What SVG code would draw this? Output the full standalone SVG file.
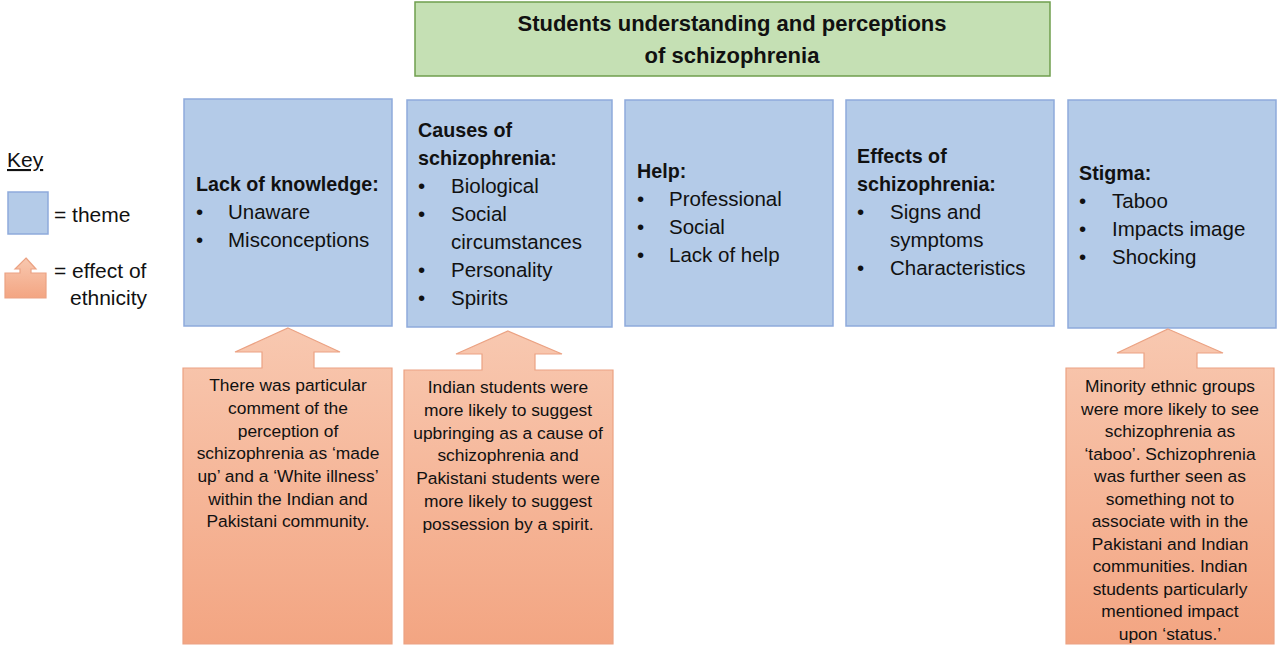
<svg xmlns="http://www.w3.org/2000/svg" width="1280" height="648" viewBox="0 0 1280 648">
<defs>
<linearGradient id="og" x1="0" y1="0" x2="0" y2="1">
<stop offset="0" stop-color="#F8C8B0"/>
<stop offset="1" stop-color="#F3A582"/>
</linearGradient>
<style>
.theme{fill:#B4CBE8;stroke:#8EAADB;stroke-width:1.5}
.title{fill:#C5E0B4;stroke:#6F9E4E;stroke-width:1.5}
.eth{fill:url(#og);stroke:#EBA283;stroke-width:1.2}
text{font-family:"Liberation Sans",Arial,sans-serif;fill:#111}
.h{font-weight:bold;font-size:19.7px}
.b{font-size:20.5px}
.t{font-weight:bold;font-size:22px;text-anchor:middle}
.c{font-size:17.4px;text-anchor:middle}
.k{font-size:21px}
</style>
</defs>
<rect width="1280" height="648" fill="#fff"/>

<g id="title">
<rect class="title" x="415" y="2" width="635" height="74"/>
<text class="t" x="732" y="31">Students understanding and perceptions</text>
<text class="t" x="732" y="63">of schizophrenia</text>
</g>

<g id="key">
<text class="k" x="7" y="167" text-decoration="underline">Key</text>
<rect class="theme" x="8" y="192" width="40" height="42"/>
<text class="k" x="54" y="222">= theme</text>
<path class="eth" d="M26,258 L36,269 L31,269 L31,273 L46,273 L46,298 L5,298 L5,273 L20,273 L20,269 L15,269 Z"/>
<text class="k" x="54" y="278">= effect of</text>
<text class="k" x="70" y="305">ethnicity</text>
</g>

<g id="theme-lack">
<rect class="theme" x="184" y="99" width="208" height="227"/>
<text class="h" x="196" y="191">Lack of knowledge:</text>
<text class="b" x="196" y="219">•</text><text class="b" x="228" y="219">Unaware</text>
<text class="b" x="196" y="247">•</text><text class="b" x="228" y="247">Misconceptions</text>
</g>

<g id="theme-causes">
<rect class="theme" x="407" y="100" width="205" height="227"/>
<text class="h" x="418" y="137">Causes of</text>
<text class="h" x="418" y="165">schizophrenia:</text>
<text class="b" x="418" y="193">•</text><text class="b" x="451" y="193">Biological</text>
<text class="b" x="418" y="221">•</text><text class="b" x="451" y="221">Social</text>
<text class="b" x="451" y="249">circumstances</text>
<text class="b" x="418" y="277">•</text><text class="b" x="451" y="277">Personality</text>
<text class="b" x="418" y="305">•</text><text class="b" x="451" y="305">Spirits</text>
</g>

<g id="theme-help">
<rect class="theme" x="625" y="100" width="208" height="226"/>
<text class="h" x="637" y="178">Help:</text>
<text class="b" x="637" y="206">•</text><text class="b" x="669" y="206">Professional</text>
<text class="b" x="637" y="234">•</text><text class="b" x="669" y="234">Social</text>
<text class="b" x="637" y="262">•</text><text class="b" x="669" y="262">Lack of help</text>
</g>

<g id="theme-effects">
<rect class="theme" x="846" y="100" width="208" height="226"/>
<text class="h" x="857" y="163">Effects of</text>
<text class="h" x="857" y="191">schizophrenia:</text>
<text class="b" x="857" y="219">•</text><text class="b" x="890" y="219">Signs and</text>
<text class="b" x="890" y="247">symptoms</text>
<text class="b" x="857" y="275">•</text><text class="b" x="890" y="275">Characteristics</text>
</g>

<g id="theme-stigma">
<rect class="theme" x="1068" y="100" width="208" height="228"/>
<text class="h" x="1079" y="180">Stigma:</text>
<text class="b" x="1079" y="208">•</text><text class="b" x="1112" y="208">Taboo</text>
<text class="b" x="1079" y="236">•</text><text class="b" x="1112" y="236">Impacts image</text>
<text class="b" x="1079" y="264">•</text><text class="b" x="1112" y="264">Shocking</text>
</g>

<g id="ethnicity-lack">
<path class="eth" d="M288,328 L340,352 L314,352 L314,368 L392,368 L392,644 L183,644 L183,368 L262,368 L262,352 L235,352 Z"/>
<text class="c" x="288" y="391">There was particular</text>
<text class="c" x="288" y="414">comment of the</text>
<text class="c" x="288" y="437">perception of</text>
<text class="c" x="288" y="459">schizophrenia as ‘made</text>
<text class="c" x="288" y="482">up’ and a ‘White illness’</text>
<text class="c" x="288" y="505">within the Indian and</text>
<text class="c" x="288" y="527">Pakistani community.</text>
</g>

<g id="ethnicity-causes">
<path class="eth" d="M508,331 L562,354 L535,354 L535,370 L613,370 L613,644 L404,644 L404,370 L482,370 L482,354 L456,354 Z"/>
<text class="c" x="508" y="393">Indian students were</text>
<text class="c" x="508" y="416">more likely to suggest</text>
<text class="c" x="508" y="439">upbringing as a cause of</text>
<text class="c" x="508" y="461">schizophrenia and</text>
<text class="c" x="508" y="484">Pakistani students were</text>
<text class="c" x="508" y="507">more likely to suggest</text>
<text class="c" x="508" y="530">possession by a spirit.</text>
</g>

<g id="ethnicity-stigma">
<path class="eth" d="M1168,329 L1223,353 L1197,353 L1197,368 L1274,368 L1274,644 L1066,644 L1066,368 L1144,368 L1144,353 L1117,353 Z"/>
<text class="c" x="1170" y="392">Minority ethnic groups</text>
<text class="c" x="1170" y="414.5">were more likely to see</text>
<text class="c" x="1170" y="437">schizophrenia as</text>
<text class="c" x="1170" y="459.5">‘taboo’. Schizophrenia</text>
<text class="c" x="1170" y="482">was further seen as</text>
<text class="c" x="1170" y="504.5">something not to</text>
<text class="c" x="1170" y="527">associate with in the</text>
<text class="c" x="1170" y="549.5">Pakistani and Indian</text>
<text class="c" x="1170" y="572">communities. Indian</text>
<text class="c" x="1170" y="594.5">students particularly</text>
<text class="c" x="1170" y="617">mentioned impact</text>
<text class="c" x="1170" y="639.5">upon ‘status.’</text>
</g>
</svg>
